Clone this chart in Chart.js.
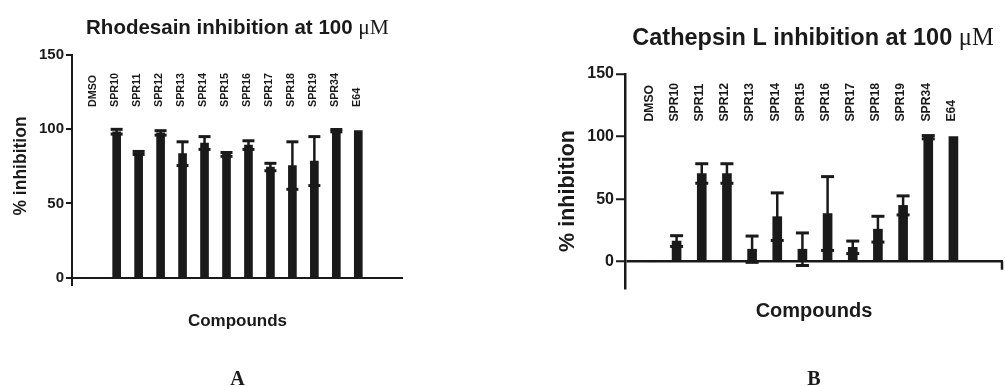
<!DOCTYPE html>
<html><head><meta charset="utf-8">
<script src="https://cdn.jsdelivr.net/npm/chart.js@4.4.1/dist/chart.umd.min.js"></script>
<style>
html,body{margin:0;padding:0;background:#fff;}
#wrap{position:relative;width:1005px;height:387px;overflow:hidden;background:#fff;}
canvas{position:absolute;top:0;}
</style></head><body>
<div id="wrap">
<canvas id="cA" width="450" height="387" style="left:0;width:450px;height:387px"></canvas>
<canvas id="cB" width="555" height="387" style="left:450px;width:555px;height:387px"></canvas>
</div>
<script>
// ---- data ----
const categories = ['DMSO','SPR10','SPR11','SPR12','SPR13','SPR14','SPR15','SPR16','SPR17','SPR18','SPR19','SPR34','E64'];
const rhodesainMean = [0, 98.3, 84, 97.5, 83.5, 90.7, 83, 89.3, 74.5, 75.5, 78.5, 99, 99];
const rhodesainErr  = [0, 1.6, 1, 1.5, 8, 4.3, 1.3, 2.9, 2.5, 16, 16.5, 0.8, 0];
const cathepsinMean = [0, 16.5, 70.5, 70.5, 10, 36, 10, 38.5, 11.5, 26, 45, 99.5, 100];
const cathepsinErr  = [0, 4.3, 7.8, 7.8, 10.5, 19, 13, 29.5, 5, 10.3, 7.6, 1.3, 0];
const yTickValues = [0, 50, 100, 150];
const titleA = ['Rhodesain inhibition at 100 ', 'μM'];
const titleB = ['Cathepsin L inhibition at 100 ', 'μM'];
const yTitle = '% inhibition';
const xTitle = 'Compounds';
const panelLetters = ['A', 'B'];

const INK = '#1a1a1a';
const SANS = '"Liberation Sans", Arial, sans-serif';
const SERIF = '"Liberation Serif", "Times New Roman", serif';

function drawMixed(ctx, parts, cx, baseline) {
  let total = 0;
  parts.forEach(p => { ctx.font = p.font; total += ctx.measureText(p.text).width; });
  let x = cx - total / 2;
  ctx.textAlign = 'left'; ctx.textBaseline = 'alphabetic';
  parts.forEach(p => { ctx.font = p.font; ctx.fillText(p.text, x, baseline); x += ctx.measureText(p.text).width; });
}

function makePanel(canvasId, mean, err, cfg) {
  const decor = {
    id: 'decor',
    afterDatasetsDraw(chart) {
      const ctx = chart.ctx, ys = chart.scales.y;
      const meta = chart.getDatasetMeta(0);
      ctx.save();
      ctx.strokeStyle = INK; ctx.lineCap = 'butt';
      meta.data.forEach((bar, i) => {
        const e = err[i];
        if (!e) return;
        const x = bar.x;
        const yT = ys.getPixelForValue(mean[i] + e);
        const yB = ys.getPixelForValue(mean[i] - e);
        ctx.lineWidth = cfg.whisker;
        ctx.beginPath(); ctx.moveTo(x, yT); ctx.lineTo(x, yB); ctx.stroke();
        ctx.lineWidth = cfg.capThick;
        [yT, yB].forEach(y => {
          ctx.beginPath(); ctx.moveTo(x - cfg.capWidth / 2, y); ctx.lineTo(x + cfg.capWidth / 2, y); ctx.stroke();
        });
      });
      ctx.restore();
    },
    afterDraw(chart) {
      const ctx = chart.ctx, xs = chart.scales.x, ys = chart.scales.y, ca = chart.chartArea;
      ctx.save();
      ctx.fillStyle = INK; ctx.strokeStyle = INK;
      const yBase = ys.getPixelForValue(cfg.labelBaseValue);
      ctx.font = 'bold ' + cfg.labelFont + 'px ' + SANS;
      categories.forEach((c, i) => {
        const x = xs.getPixelForValue(i) + cfg.labelShift;
        ctx.save();
        ctx.translate(x, yBase);
        ctx.rotate(-Math.PI / 2);
        ctx.textAlign = 'left'; ctx.textBaseline = 'middle';
        ctx.fillText(c, 0, 0);
        ctx.restore();
      });
      const cx = (ca.left + ca.right) / 2;
      drawMixed(ctx, [
        {text: cfg.title[0], font: 'bold ' + cfg.titleFont + 'px ' + SANS},
        {text: cfg.title[1], font: (cfg.titleFont + 1) + 'px ' + SERIF}
      ], cx + cfg.titleShift, cfg.titleBaseline);
      ctx.save();
      ctx.translate(cfg.yTitleX, cfg.yTitleY);
      ctx.rotate(-Math.PI / 2);
      ctx.font = 'bold ' + cfg.yTitleFont + 'px ' + SANS;
      ctx.textAlign = 'center'; ctx.textBaseline = 'middle';
      ctx.fillText(yTitle, 0, 0);
      ctx.restore();
      ctx.font = 'bold ' + cfg.xTitleFont + 'px ' + SANS;
      ctx.textAlign = 'center'; ctx.textBaseline = 'middle';
      ctx.fillText(xTitle, cx, cfg.xTitleY);
      ctx.font = 'bold ' + cfg.letterFont + 'px ' + SERIF;
      ctx.textAlign = 'center'; ctx.textBaseline = 'alphabetic';
      ctx.fillText(cfg.letter, cx, cfg.letterBaseline);
      if (cfg.endTick) {
        const y0 = ys.getPixelForValue(0);
        ctx.lineWidth = cfg.axisWidth;
        ctx.beginPath(); ctx.moveTo(ca.right - 1, y0); ctx.lineTo(ca.right - 1, y0 + cfg.endTick); ctx.stroke();
      }
      ctx.restore();
    }
  };
  return new Chart(document.getElementById(canvasId), {
    type: 'bar',
    data: {
      datasets: [{
        data: categories.map((c, i) => ({x: i, y: mean[i]})),
        backgroundColor: INK,
        borderWidth: 0,
        barThickness: cfg.barThickness
      }]
    },
    options: {
      responsive: false,
      animation: false,
      devicePixelRatio: 1,
      layout: {padding: cfg.padding},
      plugins: {legend: {display: false}, tooltip: {enabled: false}, title: {display: false}},
      scales: {
        x: {type: 'linear', min: cfg.xMin, max: cfg.xMax, offset: false, display: false, grid: {offset: false}},
        y: {
          type: 'linear', min: cfg.yMin, max: 150,
          afterFit(s) { s.width = cfg.yWidth; },
          afterBuildTicks(s) { s.ticks = yTickValues.map(v => ({value: v})); },
          ticks: {font: {family: SANS, size: cfg.tickFont, weight: 'bold'}, color: INK, padding: 2},
          grid: {
            drawOnChartArea: true, drawTicks: true, tickLength: cfg.tickLength,
            color: ctx => (ctx.tick && ctx.tick.value === 0) ? INK : 'rgba(0,0,0,0)',
            tickColor: INK, lineWidth: cfg.axisWidth, tickWidth: 2
          },
          border: {display: true, color: INK, width: cfg.axisWidth}
        }
      }
    },
    plugins: [decor]
  });
}

makePanel('cA', rhodesainMean, rhodesainErr, {
  padding: {top: 55, bottom: 102, left: 0, right: 47},
  yWidth: 72, yMin: -5, xMin: -1.033, xMax: 14.035,
  barThickness: 8, capWidth: 12, capThick: 3, whisker: 2.5,
  tickFont: 15, tickLength: 6, axisWidth: 2,
  labelFont: 10.7, labelBaseValue: 115, labelShift: -1.5,
  title: titleA, titleFont: 20.5, titleBaseline: 33.5, titleShift: 0,
  yTitleX: 21, yTitleY: 166, yTitleFont: 17.5,
  xTitleFont: 17, xTitleY: 321,
  letter: panelLetters[0], letterFont: 20, letterBaseline: 385, endTick: 0
});
makePanel('cB', cathepsinMean, cathepsinErr, {
  padding: {top: 74, bottom: 99, left: 0, right: 2},
  yWidth: 175, yMin: -21, xMin: -1.05, xMax: 13.97,
  barThickness: 9, capWidth: 13, capThick: 3, whisker: 2.5,
  tickFont: 16, tickLength: 9, axisWidth: 2.5,
  labelFont: 12.2, labelBaseValue: 112, labelShift: -2,
  title: titleB, titleFont: 23.5, titleBaseline: 44.5, titleShift: -1,
  yTitleX: 118, yTitleY: 191, yTitleFont: 21.5,
  xTitleFont: 20, xTitleY: 311,
  letter: panelLetters[1], letterFont: 20, letterBaseline: 385, endTick: 8
});
</script>
</body></html>
